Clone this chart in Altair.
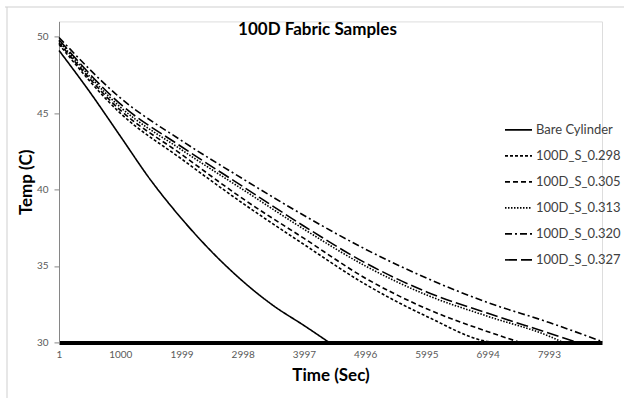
import altair as alt
import pandas as pd

TITLE = "100D Fabric Samples"
X_TITLE = "Time (Sec)"
Y_TITLE = "Temp (C)"
SERIES = ["Bare Cylinder", "100D_S_0.298", "100D_S_0.305", "100D_S_0.313", "100D_S_0.320", "100D_S_0.327"]
DASHES = [[1, 0], [3, 2], [5, 3], [1.5, 1.5], [7, 3, 2, 3], [12, 4]]
X_TICKS = [1, 1000, 1999, 2998, 3997, 4996, 5995, 6994, 7993]
Y_TICKS = [30, 35, 40, 45, 50]

bare_t = [1, 500, 1000, 1500, 2000, 2500, 3000, 3500, 4000, 4407]
bare_v = [49.1, 46.4, 43.5, 40.6, 38.1, 35.9, 34.0, 32.4, 31.1, 30.0]

s298_t = [1, 1000, 2000, 3000, 4000, 5000, 6000, 7000, 7085]
s298_v = [49.5, 45.0, 42.0, 39.1, 36.4, 33.8, 31.7, 30.05, 30.0]

s305_t = [1, 1000, 2000, 3000, 4000, 5000, 6000, 7000, 7524]
s305_v = [49.6, 45.2, 42.3, 39.4, 36.8, 34.2, 32.2, 30.7, 30.0]

s313_t = [1, 1000, 2000, 3000, 4000, 5000, 6000, 7000, 8000, 8225]
s313_v = [49.7, 45.4, 42.6, 40.0, 37.4, 35.0, 33.1, 31.7, 30.4, 30.0]

s320_t = [1, 1000, 2000, 3000, 4000, 5000, 6000, 7000, 8000, 8830]
s320_v = [49.95, 46.0, 43.2, 40.7, 38.3, 36.1, 34.2, 32.6, 31.3, 30.1]

s327_t = [1, 1000, 2000, 3000, 4000, 5000, 6000, 7000, 8000, 8455]
s327_v = [49.8, 45.6, 42.8, 40.2, 37.6, 35.2, 33.3, 31.9, 30.6, 30.0]

X_MAX = 8860

rows = []
for name, ts, vs in zip(SERIES,
                        [bare_t, s298_t, s305_t, s313_t, s320_t, s327_t],
                        [bare_v, s298_v, s305_v, s313_v, s320_v, s327_v]):
    for t, v in zip(ts, vs):
        rows.append({"series": name, "t": t, "temp": v})
df = pd.DataFrame(rows)

FONT = "Lato"

lines = alt.Chart(df).mark_line(color="black", strokeWidth=1.6, interpolate="monotone").encode(
    x=alt.X("t:Q", scale=alt.Scale(domain=[1, X_MAX], nice=False, zero=False),
            axis=alt.Axis(title=X_TITLE, values=X_TICKS, format="d", grid=False, ticks=False,
                          domainColor="black", domainWidth=4, labelFlush=False,
                          labelOverlap=False, labelFont=FONT, labelFontSize=10,
                          labelColor="#595959", labelPadding=7, titleFont=FONT,
                          titleFontSize=17, titleFontWeight="bold", titleColor="black",
                          titlePadding=8)),
    y=alt.Y("temp:Q", scale=alt.Scale(domain=[30, 51], nice=False, zero=False),
            axis=alt.Axis(title=Y_TITLE, values=Y_TICKS, grid=False, tickSize=5,
                          domainColor="#868686", tickColor="#868686", labelFont=FONT,
                          labelFontSize=10, labelColor="#595959", labelPadding=6,
                          titleFont=FONT, titleFontSize=17, titleFontWeight="bold",
                          titleColor="black", titlePadding=1)),
    strokeDash=alt.StrokeDash("series:N", scale=alt.Scale(domain=SERIES, range=DASHES),
                              legend=alt.Legend(title=None, orient="none", legendX=445,
                                                legendY=94, symbolType="stroke",
                                                symbolSize=729, symbolStrokeColor="black",
                                                symbolStrokeWidth=1.6, rowPadding=4,
                                                labelOffset=3, labelFont=FONT,
                                                labelFontSize=13, labelColor="#404040",
                                                padding=0)),
)

frame_df = pd.DataFrame({"k": [0]})
frame_left = alt.Chart(frame_df).mark_rule(color="#cfcfcf", strokeWidth=1).encode(
    x=alt.value(-52), y=alt.value(-14.4), y2=alt.value(377))
frame_top = alt.Chart(frame_df).mark_rule(color="#cfcfcf", strokeWidth=1).encode(
    x=alt.value(-54), x2=alt.value(566), y=alt.value(-14.4))

chart = alt.layer(frame_left, frame_top, lines).properties(
    width=543, height=321,
    title=alt.TitleParams(TITLE, font=FONT, fontSize=17, fontWeight="bold", color="black",
                          anchor="middle", dx=-13, offset=-33),
    autosize=alt.AutoSizeParams(type="none"),
    padding={"left": 59, "top": 21.4, "right": 22, "bottom": 56},
).configure_view(stroke=None).configure(background="white")

chart.save("out.html", embed_options={"renderer": "svg", "actions": False})
